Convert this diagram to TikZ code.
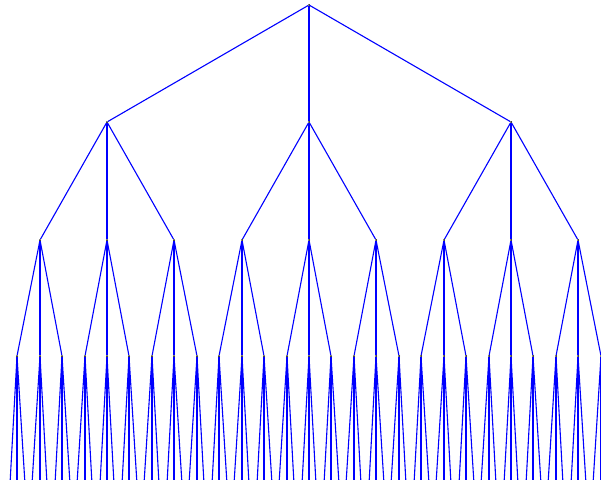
\documentclass[tikz,border=0pt]{standalone}
\usepackage{tikz}
\usetikzlibrary{calc}

\begin{document}
\begin{tikzpicture}[
    x=1pt, y=-1pt,
    dot/.style={circle, fill=black, inner sep=0pt, minimum size=2pt},
    edge/.style={blue, line width=1.1pt},
  ]
  % --- frame (the leaves sit just below the lower edge) ---
  \useasboundingbox (0,0) rectangle (601,479);
  \clip (0,0) rectangle (601,479);

  % --- nodes, level by level (three children each) ---
  \node[dot] (n0-0) at (309,5) {};
  \foreach \lev/\y/\cnt in {1/122/3, 2/240/9, 3/356/27, 4/484/81} {
    \pgfmathsetmacro{\gap}{606/\cnt}
    \pgfmathtruncatemacro{\last}{\cnt-1}
    \foreach \i in {0,...,\last} {
      \pgfmathtruncatemacro{\xx}{round(309+(\i-(\cnt-1)/2)*\gap)}
      \node[dot] (n\lev-\i) at (\xx,\y) {};
    }
  }

  % --- edges: every node to its parent ---
  \foreach \lev/\cnt in {1/3, 2/9, 3/27, 4/81} {
    \pgfmathtruncatemacro{\up}{\lev-1}
    \pgfmathtruncatemacro{\last}{\cnt-1}
    \foreach \i in {0,...,\last} {
      \pgfmathtruncatemacro{\mom}{floor(\i/3)}
      \draw[edge] (n\up-\mom) -- (n\lev-\i);
    }
  }
\end{tikzpicture}
\end{document}
